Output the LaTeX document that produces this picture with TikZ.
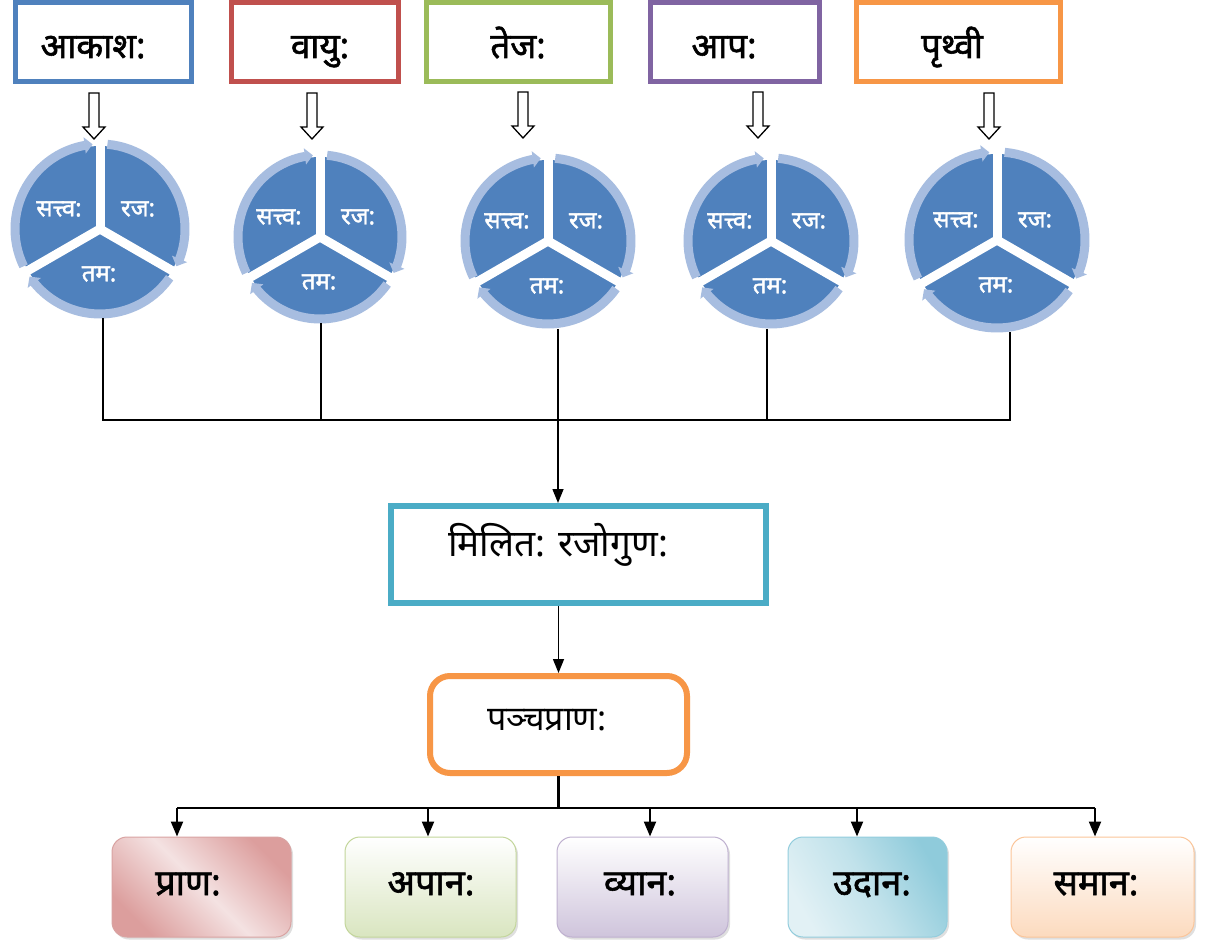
\documentclass[tikz,border=0pt]{standalone}
\usepackage{fontspec}
\usetikzlibrary{arrows.meta,bending,shadows}
\newfontfamily\deva[Script=Devanagari]{Noto Sans}
\newfontfamily\devabold[Script=Devanagari,FakeBold=1.6]{Noto Sans}

\definecolor{akashblue}{HTML}{4F81BD}
\definecolor{vayured}{HTML}{C0504D}
\definecolor{tejagreen}{HTML}{9BBB59}
\definecolor{apapurple}{HTML}{8064A2}
\definecolor{prthviorange}{HTML}{F79646}
\definecolor{mixteal}{HTML}{4BACC6}
\definecolor{gunablue}{HTML}{4F81BD}
\definecolor{ringblue}{HTML}{A7BDE0}
\definecolor{pranaedge}{HTML}{D9A3A2}
\definecolor{pranadark}{HTML}{DC9E9D}
\definecolor{pranalight}{HTML}{F4E2E2}
\definecolor{udanalight}{HTML}{E2F1F5}
\definecolor{udanadark}{HTML}{8FCBDB}

\tikzset{
  topbox/.style={draw=#1, line width=5pt, rectangle, minimum height=79pt, inner sep=0pt},
  toplabel/.style={anchor=base, inner sep=0pt, font=\devabold\fontsize{35}{37}\selectfont},
  gunalabel/.style={anchor=center, inner sep=0pt, text=white, font=\devabold\fontsize{24}{26}\selectfont},
  ring/.style={draw=ringblue, line width=9pt, -{Triangle[length=8pt,width=16pt]}},
  gap/.style={draw=white, line width=9pt},
  link/.style={line width=1.5pt, draw=black},
  arrowlink/.style={link, -{Triangle[length=14pt,width=11pt]}},
  buslink/.style={line width=2.2pt, draw=black},
  busarrow/.style={buslink, -{Triangle[length=15pt,width=12pt]}},
  midlabel/.style={anchor=base, inner sep=0pt, font=\deva\fontsize{#1}{#1}\selectfont},
  pranabox/.style={rectangle, rounded corners=15pt, line width=1pt, minimum height=100pt,
    inner sep=0pt, drop shadow={opacity=0.25, shadow xshift=2pt, shadow yshift=-2.5pt}},
  pranalabel/.style={anchor=base, inner sep=0pt, font=\devabold\fontsize{36}{38}\selectfont},
  hollowdown/.pic={
    \draw[line width=1.3pt, fill=white] (-5,-46) -- (-5,-12) -- (-11,-12) -- (0,0)
      -- (11,-12) -- (5,-12) -- (5,-46) -- cycle;
  }
}

% one three-part cycle of the gunas: #1 name, #2,#3 centre, #4 outer radius
\newcommand{\gunacycle}[4]{%
  \begin{scope}[shift={(#2,#3)}]
    \coordinate (#1) at (0,0);
    \fill[gunablue] (0,0) circle[radius=#4-7];
    \draw[gap] (0,0) -- (-90:#4+1);
    \draw[gap] (0,0) -- (30:#4+1);
    \draw[gap] (0,0) -- (150:#4+1);
    \draw[ring] (154:#4-5) arc[start angle=154, end angle=265, radius=#4-5];
    \draw[ring] (275:#4-5) arc[start angle=275, end angle=386, radius=#4-5];
    \draw[ring] (35:#4-5) arc[start angle=35, end angle=146, radius=#4-5];
    \node[gunalabel] (#1-sattva) at (-41,-20) {सत्त्व:};
    \node[gunalabel] (#1-rajas)  at (38,-20)  {रज:};
    \node[gunalabel] (#1-tamas)  at (-1,45)   {तम:};
  \end{scope}%
}

\begin{document}
\begin{tikzpicture}[x=1pt,y=-1pt]
  \useasboundingbox (0,0) rectangle (1211,941);
  \fill[white] (0,0) rectangle (1211,941);

  % the five elements
  \node[topbox=akashblue,    minimum width=176pt] (akasha) at (103.5,42) {};
  \node[topbox=vayured,      minimum width=167pt] (vayu)   at (315,42)   {};
  \node[topbox=tejagreen,    minimum width=184pt] (teja)   at (518.5,42) {};
  \node[topbox=apapurple,    minimum width=169pt] (apa)    at (735,42)   {};
  \node[topbox=prthviorange, minimum width=204pt] (prthvi) at (958.5,42) {};

  \node[toplabel] (akasha-t) at (93,58)  {आकाश:};
  \node[toplabel] (vayu-t)   at (320,58) {वायु:};
  \node[toplabel] (teja-t)   at (518,58) {तेज:};
  \node[toplabel] (apa-t)    at (724,58) {आप:};
  \node[toplabel] (prthvi-t) at (952,58) {पृथ्वी};

  % hollow arrows from each element down to its cycle
  \pic (h1) at (94,139)  {hollowdown};
  \pic (h2) at (312,139) {hollowdown};
  \pic (h3) at (523,138) {hollowdown};
  \pic (h4) at (758,138) {hollowdown};
  \pic (h5) at (989,139) {hollowdown};

  % the cycles of sattva, rajas, tamas
  \gunacycle{c1}{100}{229}{90}
  \gunacycle{c2}{320}{237}{87}
  \gunacycle{c3}{548}{241}{88}
  \gunacycle{c4}{771}{241}{88}
  \gunacycle{c5}{997}{240}{93}

  % feet of the connectors below the cycles
  \coordinate (f1) at (103,318);
  \coordinate (f2) at (321,323);
  \coordinate (f3) at (558,329);
  \coordinate (f4) at (767,329);
  \coordinate (f5) at (1010,332);
  \coordinate (bus) at (558,420);

  % combined rajas
  \node[rectangle, draw=mixteal, line width=6pt, minimum width=375pt, minimum height=97pt,
        inner sep=0pt] (milit) at (578.5,554.5) {};
  \node[midlabel=37] (milit-t) at (558,556) {मिलित: रजोगुण:};

  % five pranas as a whole
  \node[rectangle, rounded corners=20pt, draw=prthviorange, line width=6pt,
        minimum width=257pt, minimum height=97pt, inner sep=0pt] (pancha) at (558.5,724.5) {};
  \node[midlabel=34] (pancha-t) at (547,730) {पञ्चप्राण:};

  \draw[link] (f1) -- (f1 |- bus) -- (f5 |- bus) -- (f5);
  \draw[link] (f2) -- (f2 |- bus);
  \draw[link] (f4) -- (f4 |- bus);
  \draw[arrowlink] (f3) -- (f3 |- milit.north);
  \draw[arrowlink] (pancha.north |- milit.south) -- (pancha.north);

  % the five pranas
  \node[pranabox, draw=pranaedge, left color=pranadark, right color=pranadark,
        middle color=pranalight, shading angle=135, minimum width=179pt]
        (prana) at (201.5,887) {};
  \node[pranabox, draw=tejagreen!60, top color=white, bottom color=tejagreen!38,
        minimum width=171pt] (apana) at (430.5,887) {};
  \node[pranabox, draw=apapurple!50, top color=white, bottom color=apapurple!38,
        minimum width=171pt] (vyana) at (642.5,887) {};
  \node[pranabox, draw=mixteal!60, left color=udanalight, right color=udanadark,
        middle color=udanalight!60!udanadark, shading angle=120, minimum width=159pt]
        (udana) at (867.5,887) {};
  \node[pranabox, draw=prthviorange!55, top color=white, bottom color=prthviorange!35,
        minimum width=183pt] (samana) at (1102.5,887) {};

  \node[pranalabel] (prana-t)  at (188,895)  {प्राण:};
  \node[pranalabel] (apana-t)  at (431,895)  {अपान:};
  \node[pranalabel] (vyana-t)  at (640,895)  {व्यान:};
  \node[pranalabel] (udana-t)  at (872,895)  {उदान:};
  \node[pranalabel] (samana-t) at (1096,895) {समान:};

  \coordinate (b1) at (177,808);
  \coordinate (b2) at (428,808);
  \coordinate (b3) at (650,808);
  \coordinate (b4) at (857,808);
  \coordinate (b5) at (1095,808);
  \draw[buslink] (pancha.south) -- (pancha.south |- b1);
  \draw[buslink] (b1) -- (b5);
  \draw[busarrow] (b1) -- (b1 |- prana.north);
  \draw[busarrow] (b2) -- (b2 |- apana.north);
  \draw[busarrow] (b3) -- (b3 |- vyana.north);
  \draw[busarrow] (b4) -- (b4 |- udana.north);
  \draw[busarrow] (b5) -- (b5 |- samana.north);
\end{tikzpicture}
\end{document}
